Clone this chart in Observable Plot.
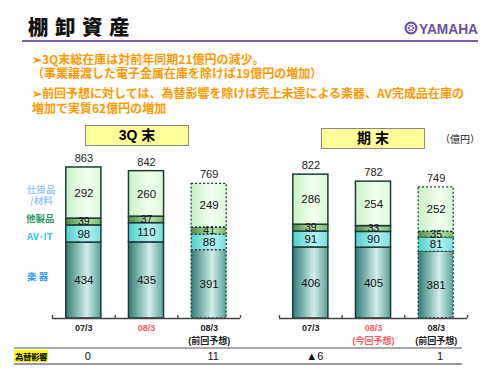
<!DOCTYPE html>
<html>
<head>
<meta charset="utf-8">
<script src="https://cdn.jsdelivr.net/npm/d3@7"></script>
<script src="https://cdn.jsdelivr.net/npm/@observablehq/plot@0.6"></script>
<style>
  html, body { margin: 0; padding: 0; background: #fff; }
  #page { position: relative; width: 500px; height: 375px; overflow: hidden;
          font-family: "Noto Sans CJK JP", "Liberation Sans", sans-serif; }
  .abs { position: absolute; white-space: nowrap; }
  #chart { position: absolute; left: 0; top: 0; }
  .bullet { color: #ff9900; font-size: 12px; font-weight: 700; line-height: 12px; }
  .hdr { position: absolute; background: #ffff99; border: 1px solid #8a8a8a;
         font-weight: 700; font-size: 14px; text-align: center; box-sizing: border-box;
         font-family: "Liberation Sans", "Noto Sans CJK JP", sans-serif; }
  .leg { font-size: 9.5px; font-weight: 700; line-height: 9px; }
</style>
</head>
<body>
<div id="page">
  <div id="chart"></div>
  <div class="abs" style="left:28px;top:11px;font-size:20.5px;font-weight:900;letter-spacing:6.5px;color:#111;">棚卸資産</div>
  <svg class="abs" style="left:400px;top:18px" width="82" height="20">
    <circle cx="11" cy="10" r="6.5" fill="#6b4fa0"/>
    <circle cx="11" cy="10" r="4" fill="none" stroke="#fff" stroke-width="1"/>
    <path d="M11 6.5 V13.5 M8 8 L14 12 M14 8 L8 12" stroke="#fff" stroke-width="1"/>
    <text x="19" y="15.5" font-family="Liberation Sans, Arial, sans-serif" font-weight="700" font-size="15" fill="#6b4fa0" textLength="59" lengthAdjust="spacingAndGlyphs">YAMAHA</text>
  </svg>
  <div class="abs" style="left:22px;top:40px;width:456px;height:2px;background:#7a5fa8;"></div>
  <div class="abs bullet" style="left:32px;top:53px;">➢3Q末総在庫は対前年同期21億円の減少。</div>
  <div class="abs bullet" style="left:32px;top:67px;">（事業譲渡した電子金属在庫を除けば19億円の増加）</div>
  <div class="abs bullet" style="left:32px;top:87px;">➢前回予想に対しては、為替影響を除けば売上未達による楽器、AV完成品在庫の</div>
  <div class="abs bullet" style="left:32px;top:102px;">増加で実質62億円の増加</div>

  <div class="hdr" id="hdr0" style="left:85px;top:125px;width:104px;height:21px;line-height:19px;"></div>
  <div class="hdr" id="hdr1" style="left:321px;top:128px;width:104px;height:21px;line-height:19px;"></div>
  <div class="abs" style="left:440px;top:131px;font-size:10px;color:#222;">（億円）</div>

  <div class="abs leg" style="left:27px;top:185px;color:#99c8f5;">仕掛品</div>
  <div class="abs leg" style="left:30px;top:196px;color:#99c8f5;">/材料</div>
  <div class="abs leg" style="left:26px;top:214px;color:#2f9a66;">他製品</div>
  <div class="abs leg" style="left:27px;top:232px;color:#33c4f0;">AV･IT</div>
  <div class="abs leg" style="left:27px;top:272px;color:#3399ff;">楽 器</div>

  <div class="abs" style="left:14px;top:347px;width:448px;height:2px;background:#aaaaaa;"></div>
  <div class="abs" style="left:14px;top:363px;width:448px;height:1.5px;background:#999999;"></div>
  <div class="abs" style="left:14px;top:350px;width:34px;height:12px;background:#ffff00;font-size:8.5px;font-weight:700;line-height:12px;text-align:center;color:#000;letter-spacing:-0.5px;">為替影響</div>
</div>
<script>
// ---- data ----
const panels = ["3Q 末", "期 末"];
const periods = ["07/3", "08/3", "08/3"];
const notes = [["", "", "(前回予想)"], ["", "(今回予想)", "(前回予想)"]];
const highlight = [[false, true, false], [false, true, false]];
const seriesNames = ["楽器", "AV・IT", "他製品", "仕掛品/材料"];
const gakki = [434, 435, 391, 406, 405, 381];
const avit = [98, 110, 88, 91, 90, 81];
const other = [39, 37, 41, 39, 33, 35];
const wip = [292, 260, 249, 286, 254, 252];
const totals = [863, 842, 769, 822, 782, 749];
const fxImpact = ["0", "", "11", "▲6", "", "1"];

// ---- styles ----
const gradIds = ["gGakki", "gAv", "gOther", "gWip"];
const gradStops = [
  ["#2f7d75", "#d2eeeb", "#5c9f98"],
  ["#4fd0d0", "#b8f3f3", "#78dede"],
  ["#4a8f42", "#b9e2aa", "#78b86a"],
  ["#c9f3c5", "#f3fff1", "#ddf8d9"]
];
const edge = "#1e3a38";

document.getElementById("hdr0").textContent = panels[0];
document.getElementById("hdr1").textContent = panels[1];

const seriesValues = [gakki, avit, other, wip];
const rows = [];
panels.forEach((p, pi) => {
  periods.forEach((per, ci) => {
    const k = pi * 3 + ci;
    seriesNames.forEach((s, si) => {
      rows.push({panel: p, i: ci, x1: ci + 0.22, x2: ci + 0.78, xm: ci + 0.5,
                 series: s, value: seriesValues[si][k], fill: `url(#${gradIds[si]})`});
    });
  });
});
const cats = [];
panels.forEach((p, pi) => periods.forEach((per, ci) => {
  const k = pi * 3 + ci;
  cats.push({panel: p, i: ci, xm: ci + 0.5, total: totals[k],
             label: notes[pi][ci] ? per + "\n" + notes[pi][ci] : per,
             color: highlight[pi][ci] ? "#ff5a5a" : "#222", fx: fxImpact[k]});
}));

const solid = rows.filter(d => d.i < 2);
const dashed = rows.filter(d => d.i === 2);

const pxPerUnit = 0.175;
const baseY = 318;
const yMax = 1000;
const H = 375;

const barOpts = (data, dash) => Plot.rectY(data, Plot.stackY({
  x1: "x1", x2: "x2", y: "value", fx: "panel", fill: "fill",
  stroke: edge, strokeWidth: dash ? 1.3 : 1.5, strokeDasharray: dash ? "2,2" : null
}));

const chart = Plot.plot({
  width: 500,
  height: H,
  marginLeft: 52,
  marginRight: 32,
  marginBottom: H - baseY,
  marginTop: baseY - yMax * pxPerUnit,
  fx: {domain: panels, axis: null, paddingInner: 0.1714, paddingOuter: 0},
  x: {domain: [0, 3], axis: null},
  y: {domain: [0, yMax], axis: null},
  color: {type: "identity"},
  style: {fontFamily: "Liberation Sans, Noto Sans CJK JP, sans-serif", overflow: "visible"},
  marks: [
    barOpts(solid, false),
    barOpts(dashed, true),
    Plot.text(rows, Plot.stackY({x: "xm", y: "value", fx: "panel", text: "value",
      fontSize: d => d.value < 50 ? 10.5 : 11.5, fill: "#111"})),
    Plot.text(cats, {x: "xm", y: "total", fx: "panel", text: d => String(d.total),
      dy: -9, fontSize: 11, fill: "#222"}),
    Plot.ruleY([0], {stroke: "#444", strokeWidth: 1.3}),
    Plot.ruleX([0, 1, 2, 3], {y1: 0, y2: 3 / pxPerUnit, stroke: "#444", strokeWidth: 1.3}),
    Plot.text(cats, {x: "xm", y: 0, fx: "panel", text: "label", dy: 4, lineAnchor: "top",
      lineHeight: 1.4, fontSize: 9, fontWeight: 700, fill: "color"}),
    Plot.text(cats, {x: "xm", y: 0, fx: "panel", text: "fx", dy: 38, dx: 4,
      fontSize: 11, fill: "#111"})
  ]
});

// gradient definitions
const svgNS = "http://www.w3.org/2000/svg";
const defs = document.createElementNS(svgNS, "defs");
gradIds.forEach((id, gi) => {
  const g = document.createElementNS(svgNS, "linearGradient");
  g.setAttribute("id", id);
  g.setAttribute("x1", "0"); g.setAttribute("x2", "1");
  g.setAttribute("y1", "0"); g.setAttribute("y2", "0");
  [0, 0.6, 1].forEach((o, oi) => {
    const s = document.createElementNS(svgNS, "stop");
    s.setAttribute("offset", o);
    s.setAttribute("stop-color", gradStops[gi][oi]);
    g.appendChild(s);
  });
  defs.appendChild(g);
});
chart.insertBefore(defs, chart.firstChild);
document.getElementById("chart").appendChild(chart);
</script>
</body>
</html>
